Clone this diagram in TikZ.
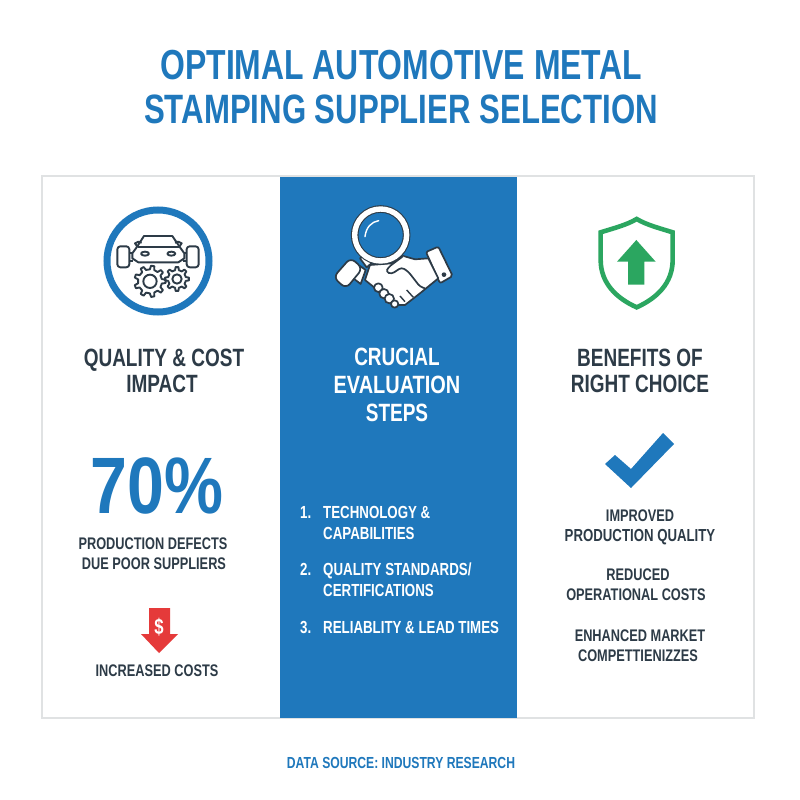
\documentclass[tikz,border=0pt]{standalone}
\usepackage{fontspec}
\setmainfont[FakeStretch=0.76]{Liberation Sans}
\definecolor{mainblue}{HTML}{1F78BC}
\definecolor{darktxt}{HTML}{2D3B47}
\definecolor{shieldgreen}{HTML}{2BA660}
\definecolor{arrowred}{HTML}{E53A3A}
\definecolor{panelgray}{HTML}{E0E2E3}
\tikzset{
  titletxt/.style={anchor=base,inner sep=0pt,text=mainblue,font=\fontsize{42}{42}\selectfont\bfseries},
  headtxt/.style={anchor=base,inner sep=0pt,text=darktxt,font=\fontsize{25}{25}\selectfont\bfseries},
  smalltxt/.style={anchor=base,inner sep=0pt,text=darktxt,font=\fontsize{16.8}{17}\selectfont\bfseries},
  listtxt/.style={anchor=base west,inner sep=0pt,text=white,font=\fontsize{17.5}{18}\selectfont\bfseries},
  icondark/.style={draw=darktxt,line width=1.9pt,line join=round},
  iconhand/.style={draw=darktxt,fill=white,line width=1.7pt,line join=round}
}
% teeth outline: centre, radius, tooth height, number of teeth
\newcommand{\gearshape}[4]{%
  \pgfmathsetmacro{\gstep}{360/#4}
  \draw[icondark] #1 ++(-\gstep*0.27:#2)
    \foreach \ang in {0,\gstep,...,359} {
      -- ++(0,0) -- ($#1+(\ang-\gstep*0.27:#2)$) -- ($#1+(\ang-\gstep*0.15:#2+#3)$)
      -- ($#1+(\ang+\gstep*0.15:#2+#3)$) -- ($#1+(\ang+\gstep*0.27:#2)$)
    } -- cycle;
}
\usetikzlibrary{calc}
\begin{document}
\begin{tikzpicture}[x=1pt,y=-1pt]
  \useasboundingbox (0,0) rectangle (800,800);
  \fill[white] (0,0) rectangle (800,800);
  % title
  \node[titletxt] (title1) at (401,80) {OPTIMAL AUTOMOTIVE METAL};
  \node[titletxt,font=\fontsize{41}{42}\selectfont\bfseries] (title2) at (401,123) {STAMPING SUPPLIER SELECTION};
  % panels
  \draw[panelgray,line width=1.5pt,fill=white] (42,176) rectangle (754,718);
  \fill[mainblue] (280,177) rectangle (517,718);

  % left icon
  \draw[mainblue,line width=7pt] (158,261) circle (51);
  \begin{scope}[shift={(80,190)},x=0.3333pt,y=-0.3333pt]
    \draw[icondark] (170,172) -- (192,138) -- (277,138) -- (300,172) -- (313,190) -- (313,205) -- (295,217) -- (175,217) -- (157,205) -- (157,190) -- cycle;
    \draw[icondark] (175,172) -- (296,172);
    \draw[icondark] (172,170) -- (165,160) -- (175,155) -- (185,158);
    \draw[icondark] (298,170) -- (305,160) -- (295,155) -- (285,158);
    \draw[icondark] (195,191) ellipse (12 and 6);
    \draw[icondark] (274,191) ellipse (12 and 6);
    \draw[icondark,rounded corners=3pt] (112,169) rectangle (148,232);
    \draw[icondark,rounded corners=3pt] (320,169) rectangle (356,232);
    \draw[icondark] (148,190) -- (157,190);
    \draw[icondark] (148,212) -- (160,212);
    \draw[icondark] (313,190) -- (320,190);
    \draw[icondark] (310,212) -- (320,212);
    \gearshape{(210,274)}{36}{11}{9}
    \draw[icondark] (210,274) circle (20);
    \gearshape{(291,267)}{27}{9}{8}
    \draw[icondark] (291,267) circle (14);
  \end{scope}

  % middle icon
  \begin{scope}[shift={(320,190)},x=0.3333pt,y=-0.3333pt]
    \draw[iconhand,rounded corners=2pt] (318,186) -- (355,170) -- (398,258) -- (360,280) -- cycle;
    \fill[darktxt] (372,254) circle (7);
    \draw[iconhand] (325,205) -- (285,208) -- (250,198) -- (215,220) -- (150,225) -- (135,270) -- (160,290) -- (220,345) -- (255,345) -- (300,310) -- (355,265) -- cycle;
    \draw[iconhand] (175,293) circle (13);
    \draw[iconhand] (192,311) circle (14);
    \draw[iconhand] (208,326) circle (14);
    \draw[iconhand] (224,342) circle (11);
    \draw[iconhand,rounded corners=3pt] (250,198) -- (205,232) -- (198,246) -- (215,252) -- (245,232) -- (265,245) -- (300,290) -- (315,295);
    \draw[icondark,line width=1.4pt] (255,335) -- (240,318);
    \draw[icondark,line width=1.4pt] (280,322) -- (260,300);
    \draw[iconhand] (120,205) -- (140,190) -- (160,215) -- (140,232) -- cycle;
    \draw[iconhand] (120,228) -- (137,240) -- (122,282) -- (100,265) -- cycle;
    \draw[iconhand,rounded corners=6pt] (92,203) -- (128,235) -- (78,296) -- (40,262) -- cycle;
    \draw[darktxt,line width=7.6pt] (182,135) circle (78);
    \draw[white,line width=5.4pt] (182,135) circle (78);
    \draw[white,line width=1.4pt,line cap=round] (135,140) .. controls (138,112) and (155,95) .. (176,92);
  \end{scope}

  % right icon
  \begin{scope}[shift={(580,200)},x=0.3333pt,y=-0.3333pt]
    \draw[shieldgreen,line width=4.6pt,miter limit=4] (170,57) .. controls (140,75) and (100,85) .. (62,97) -- (62,180) .. controls (62,250) and (110,295) .. (170,322) .. controls (230,295) and (278,250) .. (278,180) -- (278,97) .. controls (240,85) and (200,75) .. (170,57) -- cycle;
    \fill[shieldgreen] (169,120) -- (227,185) -- (193,185) -- (193,254) -- (144,254) -- (144,185) -- (111,185) -- cycle;
  \end{scope}

  % headings
  \node[headtxt] (head1a) at (164,366) {QUALITY \& COST};
  \node[headtxt] (head1b) at (162,392) {IMPACT};
  \node[headtxt,text=white] (head2a) at (397,365) {CRUCIAL};
  \node[headtxt,text=white] (head2b) at (397,393) {\scalebox{1.05}[1]{EVALUATION}};
  \node[headtxt,text=white] (head2c) at (397,421) {STEPS};
  \node[headtxt] (head3a) at (640,366) {BENEFITS OF};
  \node[headtxt] (head3b) at (640,392) {RIGHT CHOICE};

  % left column
  \node[anchor=base,inner sep=0pt,text=mainblue,font=\fontsize{80}{80}\selectfont\bfseries] (pct) at (157,513) {\scalebox{1.09}[1]{70\%}};
  \node[smalltxt] (defects1) at (153,549) {PRODUCTION DEFECTS};
  \node[smalltxt] (defects2) at (154,569) {DUE POOR SUPPLIERS};
  \fill[arrowred] (149,608) -- (170,608) -- (170,634) -- (178,634) -- (159,653) -- (141,634) -- (149,634) -- cycle;
  \node[anchor=center,inner sep=0pt,text=white,font=\fontsize{22}{22}\selectfont\bfseries] (dollar) at (159,627) {\$};
  \node[smalltxt] (costs) at (157,676) {INCREASED COSTS};

  % middle list
  \node[listtxt] (num1) at (300,518) {1.};
  \node[listtxt] (item1a) at (323,518) {TECHNOLOGY \&};
  \node[listtxt] (item1b) at (323,539) {CAPABILITIES};
  \node[listtxt] (num2) at (300,575) {2.};
  \node[listtxt] (item2a) at (323,575) {QUALITY STANDARDS/};
  \node[listtxt] (item2b) at (323,596) {CERTIFICATIONS};
  \node[listtxt] (num3) at (300,633) {3.};
  \node[listtxt] (item3a) at (323,633) {RELIABLITY \& LEAD TIMES};

  % right column
  \fill[mainblue] (605,464) -- (615,455) -- (631,469) -- (663,433) -- (674,444) -- (631,488) -- cycle;
  \node[smalltxt] (ben1a) at (640,521) {IMPROVED};
  \node[smalltxt,font=\fontsize{17.4}{17}\selectfont\bfseries] (ben1b) at (640,541) {PRODUCTION QUALITY};
  \node[smalltxt] (ben2a) at (638,580) {REDUCED};
  \node[smalltxt] (ben2b) at (636,600) {OPERATIONAL COSTS};
  \node[smalltxt] (ben3a) at (640,641) {ENHANCED MARKET};
  \node[smalltxt] (ben3b) at (638,661) {COMPETTIENIZZES};

  % source
  \node[smalltxt,text=mainblue,font=\fontsize{16}{17}\selectfont\bfseries] (source) at (401,768) {DATA SOURCE: INDUSTRY RESEARCH};
\end{tikzpicture}
\end{document}
